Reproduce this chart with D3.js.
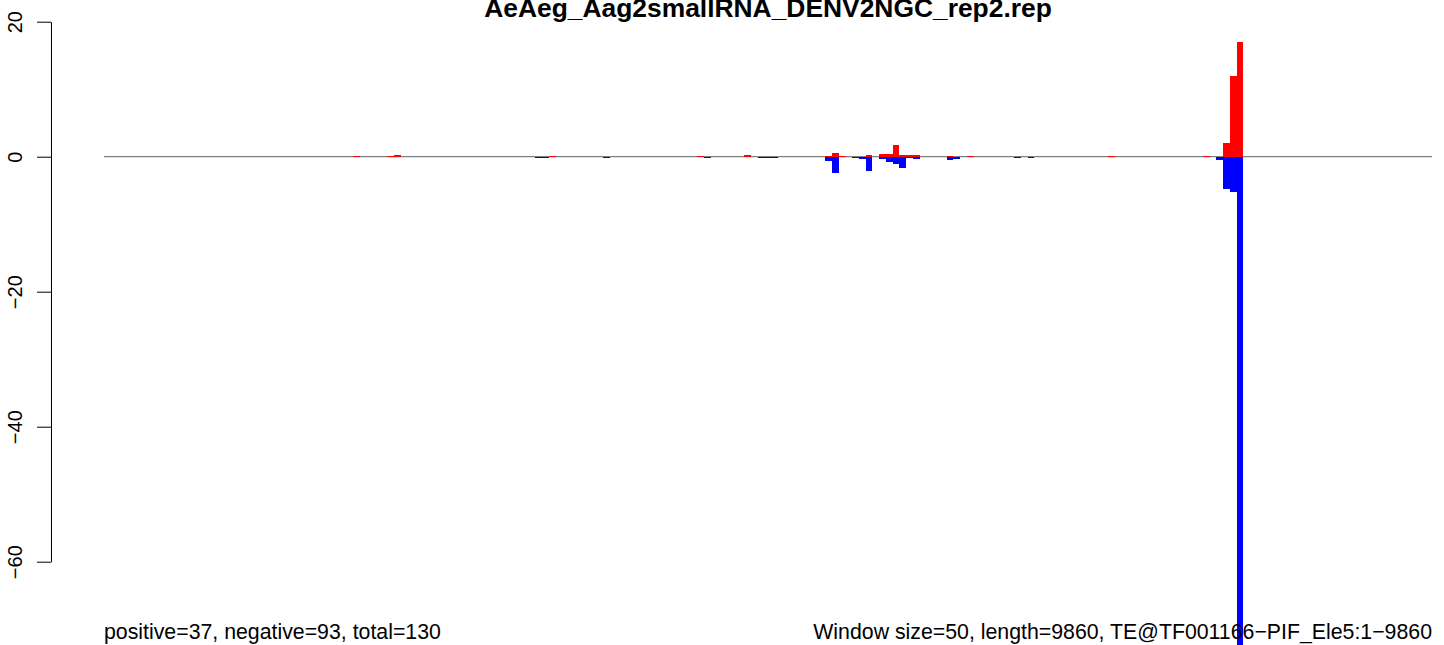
<!DOCTYPE html>
<html>
<head>
<meta charset="utf-8">
<script src="https://cdn.jsdelivr.net/npm/d3@7"></script>
<style>
  html, body { margin: 0; padding: 0; background: #fff; }
  svg { display: block; font-family: "Liberation Sans", Arial, Helvetica, sans-serif; }
</style>
</head>
<body>
<svg id="chart" width="1444" height="645"></svg>
<script>
// ---- data ----
const title = "AeAeg_Aag2smallRNA_DENV2NGC_rep2.rep";
const windowSize = 50;
const nWindows = 197;
const leftNote = "positive=37, negative=93, total=130";
const rightNote = "Window size=50, length=9860, TE@TF001166\u2212PIF_Ele5:1\u22129860";
const yTicks = [-60, -40, -20, 0, 20];

// positive strand (red): window index and value
const posWindows = [37, 42, 43, 66, 88, 95, 107, 108, 109, 113, 115, 116, 117, 118, 119, 120, 125, 128, 149, 163, 166, 167, 168];
const posValues  = [0.15, 0.15, 0.3, 0.15, 0.15, 0.25, 0.15, 0.55, 0.15, 0.2, 0.4, 0.4, 1.7, 0.25, 0.25, 0.25, 0.15, 0.15, 0.15, 0.15, 2, 12, 17];

// negative strand (blue): window index and value
const negWindows = [64, 65, 74, 89, 97, 98, 99, 107, 108, 111, 112, 113, 115, 116, 117, 118, 119, 120, 125, 126, 135, 137, 165, 166, 167, 168];
const negValues  = [-0.15, -0.15, -0.2, -0.15, -0.15, -0.15, -0.15, -0.6, -2.45, -0.15, -0.35, -2.15, -0.37, -0.77, -1.1, -1.7, -0.2, -0.4, -0.5, -0.3, -0.2, -0.2, -0.55, -4.8, -5.3, -73];

// ---- layout ----
const svg = d3.select("#chart");
const plotLeft = 104, plotRight = 1432;
const yTop = 21.7, yBottom = 561.7;

const x = d3.scaleLinear().domain([0, nWindows * windowSize]).range([plotLeft, plotRight]);
const y = d3.scaleLinear().domain([-60, 20]).range([yBottom, yTop]);

// zero line
svg.append("line")
  .attr("x1", x(0)).attr("x2", x(nWindows * windowSize))
  .attr("y1", y(0)).attr("y2", y(0))
  .attr("stroke", "#808080").attr("stroke-width", 1.2);

const pos = posWindows.map((w, i) => ({w, v: posValues[i]}));
const neg = negWindows.map((w, i) => ({w, v: negValues[i]}));

svg.append("g").selectAll("rect").data(pos).join("rect")
  .attr("x", d => x(d.w * windowSize))
  .attr("width", d => x((d.w + 1) * windowSize) - x(d.w * windowSize))
  .attr("y", d => y(d.v))
  .attr("height", d => y(0) - y(d.v))
  .attr("fill", "#ff0000")
  .attr("shape-rendering", "crispEdges");

svg.append("g").selectAll("rect").data(neg).join("rect")
  .attr("x", d => x(d.w * windowSize))
  .attr("width", d => x((d.w + 1) * windowSize) - x(d.w * windowSize))
  .attr("y", y(0))
  .attr("height", d => y(d.v) - y(0))
  .attr("fill", "#0000ff")
  .attr("shape-rendering", "crispEdges");

// y axis
const axis = d3.axisLeft(y).tickValues(yTicks).tickSize(14).tickSizeOuter(0)
  .tickFormat(d => d < 0 ? "\u2212" + Math.abs(d) : String(d));
const gAxis = svg.append("g").attr("transform", "translate(51,0)").call(axis);
gAxis.select(".domain").attr("stroke", "#000").attr("stroke-width", 1);
gAxis.selectAll(".tick line").attr("stroke", "#000").attr("stroke-width", 1);
gAxis.selectAll(".tick text")
  .attr("x", null).attr("dy", null)
  .attr("transform", "translate(-29,0) rotate(-90)")
  .attr("text-anchor", "middle")
  .attr("fill", "#000")
  .style("font-size", "20px")
  .style("font-family", "'Liberation Sans', Arial, sans-serif");

// title
svg.append("text")
  .attr("x", (plotLeft + plotRight) / 2).attr("y", 17)
  .attr("text-anchor", "middle")
  .style("font-size", "26.4px").style("font-weight", "bold")
  .text(title);

// bottom notes
svg.append("text")
  .attr("x", plotLeft).attr("y", 639)
  .style("font-size", "21.3px")
  .text(leftNote);
svg.append("text")
  .attr("x", plotRight).attr("y", 639)
  .attr("text-anchor", "end")
  .style("font-size", "21.3px")
  .text(rightNote);
</script>
</body>
</html>
